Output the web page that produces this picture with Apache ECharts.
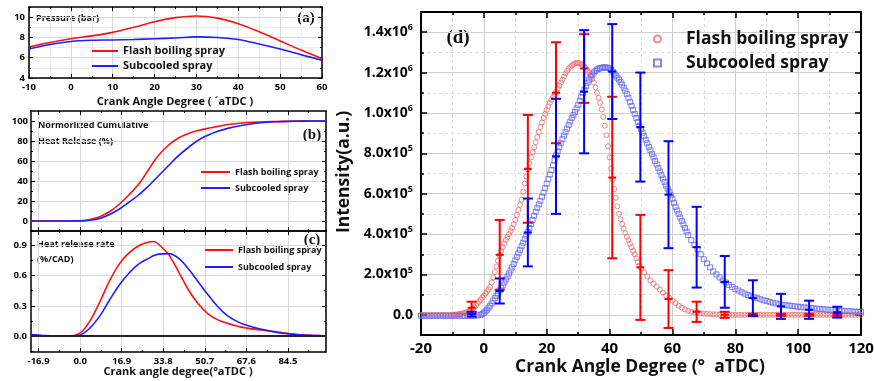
<!DOCTYPE html>
<html><head><meta charset="utf-8">
<script src="https://cdn.jsdelivr.net/npm/echarts@6/dist/echarts.min.js"></script>
<style>html,body{margin:0;padding:0;background:#fff}#c{width:874px;height:381px}</style>
</head><body><div id="c"></div><script>
// ---------- Panel (a): pressure ----------
const angleA = [-10,-5,0,5,10,15,20,25,30,35,40,45,50,55,60];
const pressFlash = [7.05,7.5,7.87,8.15,8.5,9.0,9.55,9.95,10.12,9.9,9.35,8.55,7.65,6.75,5.9];
const pressSub = [6.85,7.3,7.6,7.72,7.75,7.8,7.87,7.95,8.05,8.0,7.8,7.35,6.85,6.3,5.75];
const ticksAx = [-10,0,10,20,30,40,50,60];
const minorAx = [-5,5,15,25,35,45,55];
const ticksAy = [4,6,8,10];
const minorAy = [5,7,9,11];

// ---------- Panels (b),(c): heat release ----------
const angleBC = [-20,-15,-10,-5,0,4,8,12,16,20,24,28,30,32,36,40,44,48,52,56,60,65,70,75,80,85,90,95,100];
const cumFlash = [0,0,0,0,0.2,1.5,4.2,9.5,17,26.5,37.5,52,59.5,66,76,83,87.5,90.5,92.7,94.6,96.5,97.8,98.6,99.2,99.5,99.8,99.9,100,100];
const cumSub = [0,0,0,0,0.1,0.8,2.6,6.5,12,19,26.5,35.5,40.5,45.5,55.5,65.3,73.5,80.8,85.8,89.7,92.6,95.3,97.2,98.5,99.2,99.6,99.85,100,100];
const rateFlash = [0,0,0,0,0.03,0.15,0.34,0.55,0.72,0.83,0.9,0.935,0.94,0.91,0.81,0.64,0.46,0.32,0.22,0.16,0.125,0.09,0.07,0.055,0.04,0.025,0.012,0.005,0];
const rateSub = [0.015,0.005,0,0,0.01,0.08,0.2,0.36,0.51,0.63,0.72,0.775,0.8,0.815,0.82,0.775,0.67,0.54,0.41,0.29,0.2,0.13,0.09,0.06,0.035,0.02,0.01,0.005,0];
const ticksBCx = [-16.9,0,16.9,33.8,50.7,67.6,84.5];
const minorBCx = [-8.45,8.45,25.35,42.25,59.15,76.05,92.95];
const ticksBy = [0,20,40,60,80,100];
const minorBy = [-10,10,30,50,70,90];
const ticksCy = [0,0.3,0.6,0.9];
const minorCy = [-0.15,0.15,0.45,0.75];

// ---------- Panel (d): spray intensity (values in units of 1e5) ----------
const angleFlash = [-20,-19,-18,-17,-16,-15,-14,-13,-12,-11,-10,
-9.5,-9,-8.5,-8,-7.5,-7,-6.5,-6,-5.5,-5,-4.5,-4,-3.5,-3,-2.5,-2,-1.5,-1,-0.5,
0,0.5,1,1.5,2,2.5,3,3.5,4,4.5,5,5.5,6,6.5,7,7.5,8,8.5,9,9.5,
10,10.5,11,11.5,12,12.5,13,13.5,14,14.5,15,15.5,16,16.5,17,17.5,18,18.5,19,19.5,
20,20.5,21,21.5,22,22.5,23,23.5,24,24.5,25,25.5,26,26.5,27,27.5,28,28.5,29,29.5,
30,30.5,31,31.5,32,32.5,33,33.5,34,34.5,35,35.5,36,36.5,37,37.5,38,38.5,39,39.5,
40,40.5,41,41.5,42,42.5,43,43.5,44,44.5,45,45.5,46,46.5,47,47.5,48,48.5,49,49.5,
50,
51,52,53,54,55,56,57,58,59,
60,61,62,63,64,65,66,67,68,69,
70,71,72,73,74,75,76,77,78,79,
80,81,82,83,84,85,86,87,88,89,90,91,92,93,94,95,96,97,98,99,
100,101,102,103,104,105,106,107,108,109,110,111,112,113,114,115,116,117,118,119,120];
const intFlash = [0,0,0,0,0,0,0,0,0,0,0,
0.005,0.01,0.02,0.03,0.045,0.06,0.08,0.1,0.13,0.16,0.2,0.25,0.31,0.38,0.46,0.55,0.65,0.75,0.85,
0.95,1.05,1.15,1.26,1.38,1.6,1.85,2.12,2.4,2.68,2.95,3.16,3.35,3.53,3.7,3.85,4.0,4.15,4.3,4.48,
4.7,4.95,5.2,5.45,5.7,6.1,6.5,6.85,7.2,7.5,7.8,8.05,8.3,8.55,8.8,9.05,9.3,9.53,9.75,9.95,
10.15,10.33,10.5,10.65,10.8,10.93,11.05,11.2,11.35,11.5,11.65,11.8,11.95,12.08,12.2,12.28,12.35,12.41,12.45,12.47,
12.48,12.46,12.42,12.37,12.3,12.21,12.1,11.98,11.85,11.68,11.5,11.27,11.0,10.75,10.5,10.17,9.8,9.37,8.9,8.35,
7.8,7.25,6.7,6.23,5.8,5.38,5.0,4.73,4.5,4.27,4.05,3.87,3.7,3.52,3.35,3.17,3.0,2.8,2.6,2.44,
2.3,
2.1,1.9,1.7,1.55,1.4,1.25,1.1,0.95,0.84,
0.7,0.58,0.45,0.35,0.27,0.2,0.15,0.12,0.1,0.08,
0.06,0.05,0.04,0.03,0.02,0.01,0.01,0,0,0,
0,0,0,0,0,0,0,0,0,0,0,0,0,0,0,0,0,0,0,0,
0,0,0,0,0,0,0,0,0,0,0,0,0,0,0,0,0,0,0,0,0];
const angleSub = [-20,-19,-18,-17,-16,-15,-14,-13,-12,-11,-10,-9,-8,-7,-6,-5,-4,-3,-2,-1,
-0.5,
0,0.5,1,1.5,2,2.5,3,3.5,4,4.5,5,5.5,6,6.5,7,7.5,8,8.5,9,9.5,
10,10.5,11,11.5,12,12.5,13,13.5,14,14.5,15,15.5,16,16.5,17,17.5,18,18.5,19,19.5,
20,20.5,21,21.5,22,22.5,23,23.5,24,24.5,25,25.5,26,26.5,27,27.5,28,28.5,29,29.5,
30,30.5,31,31.5,32,32.5,33,33.5,34,34.5,35,35.5,36,36.5,37,37.5,38,38.5,39,39.5,
40,40.5,41,41.5,42,42.5,43,43.5,44,44.5,45,45.5,46,46.5,47,47.5,48,48.5,49,49.5,
50,50.5,51,51.5,52,52.5,53,53.5,54,54.5,55,55.5,56,56.5,57,57.5,58,58.5,59,59.5,
60,60.5,61,61.5,62,62.5,63,63.5,64,64.5,
65,
66,67,68,69,
70,71,72,73,74,75,76,77,78,79,
80,81,82,83,84,85,86,87,88,89,
90,91,92,93,94,95,96,97,98,99,
100,101,102,103,104,105,106,107,108,109,
110,111,112,113,114,115,116,117,118,119,120];
const intSub = [-0.05,-0.05,-0.05,-0.05,-0.05,-0.05,-0.05,-0.05,-0.05,-0.05,-0.05,-0.05,-0.05,-0.05,-0.05,-0.05,-0.05,-0.05,-0.03,0.0,
0.04,
0.1,0.17,0.25,0.35,0.45,0.57,0.7,0.82,0.95,1.07,1.2,1.32,1.45,1.6,1.75,1.9,2.05,2.2,2.35,2.52,
2.7,2.87,3.05,3.22,3.4,3.57,3.75,3.92,4.1,4.3,4.5,4.7,4.9,5.1,5.3,5.47,5.65,5.85,6.05,6.27,
6.5,6.72,6.95,7.17,7.4,7.65,7.9,8.1,8.3,8.5,8.7,8.88,9.05,9.22,9.4,9.57,9.75,9.9,10.05,10.22,
10.4,10.6,10.8,10.98,11.15,11.33,11.5,11.65,11.8,11.9,12.0,12.08,12.15,12.19,12.22,12.24,12.25,12.26,12.25,12.23,
12.2,12.13,12.05,11.95,11.85,11.75,11.65,11.53,11.4,11.25,11.1,10.93,10.75,10.55,10.35,10.15,9.95,9.75,9.55,9.37,
9.2,9.02,8.85,8.67,8.5,8.32,8.15,7.97,7.8,7.62,7.45,7.27,7.1,6.92,6.75,6.57,6.4,6.25,6.1,5.92,
5.75,5.55,5.35,5.17,5.0,4.82,4.65,4.47,4.3,4.12,
3.95,
3.7,3.45,3.25,3.0,
2.75,2.55,2.35,2.15,2.0,1.85,1.7,1.6,1.48,1.38,
1.28,1.2,1.12,1.05,0.98,0.92,0.87,0.82,0.77,0.72,
0.68,0.64,0.6,0.56,0.53,0.5,0.48,0.46,0.44,0.42,
0.4,0.38,0.36,0.35,0.34,0.32,0.3,0.29,0.28,0.26,
0.25,0.24,0.22,0.21,0.2,0.19,0.18,0.17,0.16,0.15,0.15];
const errAngle = [-3.9,5.05,14.0,22.95,31.9,40.85,49.8,58.75,67.7,76.65,85.6,94.55,103.5,112.45];
const errFlashMean = [0.35,2.97,7.23,11.0,12.2,6.8,2.35,0.78,0.15,0.0,0.0,0.0,0.0,0.0];
const errFlashDev = [0.3,1.73,2.67,2.5,1.7,4.0,2.6,1.43,0.5,0.15,0.05,0.05,0.05,0.05];
const errSubMean = [0.03,1.18,4.08,7.85,11.05,12.05,9.3,5.95,3.35,1.63,0.83,0.42,0.25,0.13];
const errSubDev = [0.12,0.62,1.68,2.85,3.05,2.35,2.7,2.65,2.0,1.28,0.88,0.62,0.45,0.27];
const ticksDx = [-20,0,20,40,60,80,100,120];
const minorDx = [-10,10,30,50,70,90,110];
const ticksDy = [0,2,4,6,8,10,12,14];
const minorDy = [-1,1,3,5,7,9,11,13,15];
const UNIT = 1e5;

const SANS = '"Open Sans", "Noto Sans", sans-serif';
const SERIF = '"Liberation Serif", "DejaVu Serif", serif';
const RED = '#ff1010', BLUE = '#1e1eff';

const xAxes = [], yAxes = [];
function frameAxes(dim, grid, min, max, major, minor, o) {
  const list = dim === 'x' ? xAxes : yAxes;
  const sides = dim === 'x' ? ['bottom', 'top'] : ['left', 'right'];
  const base = {type: 'value', gridIndex: grid, min: min, max: max, silent: true, axisPointer: {show: false}};
  const tickStyle = {color: '#000', width: o.tickWidth || 1};
  list.push(Object.assign({}, base, {
    position: sides[0],
    axisLine: {show: true, onZero: false, lineStyle: {color: '#000', width: o.lineWidth}},
    axisTick: {show: true, inside: true, length: o.majorLen, customValues: major, lineStyle: tickStyle},
    axisLabel: {show: o.showLabel !== false, customValues: major, formatter: o.fmt, margin: o.margin,
      color: '#000', fontFamily: SANS, fontWeight: 'bold', fontSize: o.fontSize, rich: o.rich},
    splitLine: {show: true, lineStyle: {color: o.gridColor, width: 1}}
  }));
  const main = list.length - 1;
  list.push(Object.assign({}, base, {
    position: sides[1],
    axisLine: {show: true, onZero: false, lineStyle: {color: '#000', width: o.lineWidth}},
    axisTick: {show: true, inside: true, length: o.majorLen, customValues: major, lineStyle: tickStyle},
    axisLabel: {show: false}, splitLine: {show: false}
  }));
  for (let k = 0; k < 2; k++) {
    list.push(Object.assign({}, base, {
      position: sides[k],
      axisLine: {show: false, onZero: false},
      axisTick: {show: true, inside: true, length: o.minorLen, customValues: minor, lineStyle: tickStyle},
      axisLabel: {show: false},
      splitLine: {show: k === 0 && !!o.minorGrid, lineStyle: o.minorGrid || {}}
    }));
  }
  return main;
}

const fmt0 = v => String(v);
const fmt1 = v => v.toFixed(1);
const gridGray = '#d9d9d9';

// grids: 0=a, 1=b, 2=c, 3=d
const xa = frameAxes('x', 0, -10, 60, ticksAx, minorAx, {lineWidth: 1.5, majorLen: 4, minorLen: 2, fontSize: 9.5, margin: 4, fmt: fmt0, gridColor: gridGray, minorGrid: {color: '#eeeeee', width: 1}});
const ya = frameAxes('y', 0, 4, 11, ticksAy, minorAy, {lineWidth: 1.5, majorLen: 4, minorLen: 2, fontSize: 9.5, margin: 4, fmt: fmt0, gridColor: gridGray, minorGrid: {color: '#eeeeee', width: 1}});
const xb = frameAxes('x', 1, -20, 100, ticksBCx, minorBCx, {lineWidth: 1.5, majorLen: 4, minorLen: 2, showLabel: false, gridColor: gridGray});
const yb = frameAxes('y', 1, -10, 110, ticksBy, minorBy, {lineWidth: 1.5, majorLen: 4, minorLen: 2, fontSize: 9.5, margin: 3, fmt: fmt0, gridColor: gridGray});
const xc = frameAxes('x', 2, -20, 100, ticksBCx, minorBCx, {lineWidth: 1.5, majorLen: 4, minorLen: 2, fontSize: 9.5, margin: 4, fmt: fmt1, gridColor: gridGray});
const yc = frameAxes('y', 2, -0.16, 1.045, ticksCy, minorCy, {lineWidth: 1.5, majorLen: 4, minorLen: 2, fontSize: 9.5, margin: 4, fmt: fmt1, gridColor: gridGray});
const sciFmt = v => {
  if (v === 0) return '{m|0.0}';
  const val = v * UNIT;
  const e = Math.floor(Math.log10(Math.abs(val)) + 1e-9);
  return '{m|' + (val / Math.pow(10, e)).toFixed(1) + 'x10}{s|' + e + '}';
};
const xd = frameAxes('x', 3, -20, 120, ticksDx, minorDx, {lineWidth: 2, tickWidth: 1.5, majorLen: 6, minorLen: 3, fontSize: 15, margin: 6, fmt: fmt0, gridColor: '#cfcfcf', minorGrid: {color: '#dddddd', width: 1, type: [3, 3]}});
const yd = frameAxes('y', 3, -1, 15, ticksDy, minorDy, {lineWidth: 2, tickWidth: 1.5, majorLen: 6, minorLen: 3, fontSize: 14, margin: 8, fmt: sciFmt, gridColor: '#cfcfcf', minorGrid: {color: '#dddddd', width: 1, type: [3, 3]},
  rich: {m: {fontSize: 14, fontWeight: 'bold', fontFamily: SANS, color: '#000', lineHeight: 18},
         s: {fontSize: 9, fontWeight: 'bold', fontFamily: SANS, color: '#000', verticalAlign: 'top', lineHeight: 10}}});

const zip = (xs, ys) => xs.map((x, i) => [x, ys[i]]);
const lineSeries = (name, xi, yi, xs, ys, color, extra) => Object.assign({
  name: name, type: 'line', xAxisIndex: xi, yAxisIndex: yi, data: zip(xs, ys), smooth: 0.35,
  symbol: 'none', showSymbol: false, lineStyle: {color: color, width: 1.6}, itemStyle: {color: color},
  animation: false, silent: true, z: 3
}, extra || {});

function errRender(color) {
  return function (params, api) {
    const x = api.value(0), m = api.value(1), d = api.value(2);
    const top = api.coord([x, m + d]), bot = api.coord([x, m - d]), mid = api.coord([x, m]);
    const w = 5, st = {stroke: color, lineWidth: 2};
    return {type: 'group', children: [
      {type: 'line', shape: {x1: top[0], y1: top[1], x2: bot[0], y2: bot[1]}, style: st},
      {type: 'line', shape: {x1: top[0] - w, y1: top[1], x2: top[0] + w, y2: top[1]}, style: st},
      {type: 'line', shape: {x1: bot[0] - w, y1: bot[1], x2: bot[0] + w, y2: bot[1]}, style: st},
      {type: 'line', shape: {x1: mid[0] - 4, y1: mid[1], x2: mid[0] + 4, y2: mid[1]}, style: st}
    ]};
  };
}
const errData = (xs, ms, ds) => xs.map((x, i) => [x, ms[i], ds[i]]);

const series = [
  lineSeries('Flash boiling spray (a)', xa, ya, angleA, pressFlash, RED),
  lineSeries('Subcooled spray (a)', xa, ya, angleA, pressSub, BLUE),
  lineSeries('Flash boiling spray (b)', xb, yb, angleBC, cumFlash, RED),
  lineSeries('Subcooled spray (b)', xb, yb, angleBC, cumSub, BLUE),
  lineSeries('Flash boiling spray (c)', xc, yc, angleBC, rateFlash, RED, {
    markLine: {silent: true, symbol: ['none', 'none'], label: {show: false}, animation: false,
      lineStyle: {color: '#222', width: 2, type: 'solid'}, data: [{yAxis: 0}]}}),
  lineSeries('Subcooled spray (c)', xc, yc, angleBC, rateSub, BLUE),
  {name: 'Flash boiling spray', type: 'scatter', xAxisIndex: xd, yAxisIndex: yd, data: zip(angleFlash, intFlash),
   symbol: 'circle', symbolSize: 5, itemStyle: {color: 'rgba(255,255,255,0)', borderColor: '#f06a6a', borderWidth: 1}, animation: false, silent: true, z: 3},
  {name: 'Subcooled spray', type: 'scatter', xAxisIndex: xd, yAxisIndex: yd, data: zip(angleSub, intSub),
   symbol: 'rect', symbolSize: 5, itemStyle: {color: 'rgba(255,255,255,0)', borderColor: '#6464ee', borderWidth: 1}, animation: false, silent: true, z: 3},
  {name: 'err flash', type: 'custom', xAxisIndex: xd, yAxisIndex: yd, data: errData(errAngle, errFlashMean, errFlashDev),
   renderItem: errRender('#ff0000'), animation: false, silent: true, z: 4},
  {name: 'err sub', type: 'custom', xAxisIndex: xd, yAxisIndex: yd, data: errData(errAngle, errSubMean, errSubDev),
   renderItem: errRender('#0000ff'), animation: false, silent: true, z: 5}
];

const strip = n => n.replace(/ \([abc]\)$/, '');
const legendLine = (tag, left, top, iw, gap, fs) => ({
  data: [{name: 'Flash boiling spray ' + tag, icon: 'rect'}, {name: 'Subcooled spray ' + tag, icon: 'rect'}],
  left: left, top: top, orient: 'vertical',
  itemWidth: iw, itemHeight: 2, itemGap: gap, selectedMode: false, formatter: strip, padding: 0,
  textStyle: {fontFamily: SANS, fontWeight: 'bold', fontSize: fs, color: '#111', lineHeight: 12}
});

const txt = (text, x, y, font, align, extra) => Object.assign({
  type: 'text', x: x, y: y, silent: true,
  style: {text: text, font: font, fill: '#111', align: align || 'left', verticalAlign: 'middle'}
}, extra || {});

const option = {
  animation: false,
  backgroundColor: '#ffffff',
  grid: [
    {left: 29, top: 7, width: 293, height: 71, outerBoundsMode: 'none', containLabel: false},
    {left: 31, top: 111, width: 295, height: 120, outerBoundsMode: 'none', containLabel: false},
    {left: 31, top: 231, width: 295, height: 121, outerBoundsMode: 'none', containLabel: false},
    {left: 421, top: 12, width: 440, height: 323, outerBoundsMode: 'none', containLabel: false}
  ],
  xAxis: xAxes,
  yAxis: yAxes,
  legend: [
    legendLine('(a)', 92, 45, 26, 3, 11),
    legendLine('(b)', 201, 166, 29, 4, 9),
    legendLine('(c)', 205, 244, 28, 5, 9),
    {data: ['Flash boiling spray', 'Subcooled spray'], left: 653, top: 30, orient: 'vertical', padding: 0,
     itemWidth: 7, itemHeight: 7, itemGap: 6, selectedMode: false,
     textStyle: {fontFamily: SANS, fontWeight: 'bold', fontSize: 17.5, color: '#111', padding: [0, 0, 0, 20], lineHeight: 18}}
  ],
  graphic: [
    txt('Pressure (bar)', 36, 18, 'bold 9px ' + SANS),
    txt('(a)', 306, 18, 'bold 15px ' + SERIF, 'center'),
    txt('Crank Angle Degree ( \u00b4aTDC )', 175, 102, 'bold 11px ' + SANS, 'center'),
    txt('Normorlized Cumulative', 38, 125, 'bold 9px ' + SANS),
    txt('Heat Release (%)', 38, 141, 'bold 9px ' + SANS),
    txt('(b)', 312, 135, 'bold 15px ' + SERIF, 'center'),
    txt('Heat release rate', 37, 244, 'bold 9px ' + SANS),
    txt('(%/CAD)', 37, 259, 'bold 9px ' + SANS),
    txt('(c)', 312, 240, 'bold 15px ' + SERIF, 'center'),
    txt('Crank angle degree(\u00b0aTDC )', 178, 372, 'bold 11px ' + SANS, 'center'),
    txt('(d)', 458, 38, 'bold 19px ' + SERIF, 'center'),
    txt('Intensity(a.u.)', 344, 172, 'bold 17.5px ' + SANS, 'center', {rotation: Math.PI / 2}),
    txt('Crank Angle Degree (\u00b0  aTDC)', 640, 367, 'bold 17.5px ' + SANS, 'center')
  ],
  series: series
};

const chart = echarts.init(document.getElementById('c'), null, {renderer: 'canvas'});
chart.setOption(option);
</script></body></html>
